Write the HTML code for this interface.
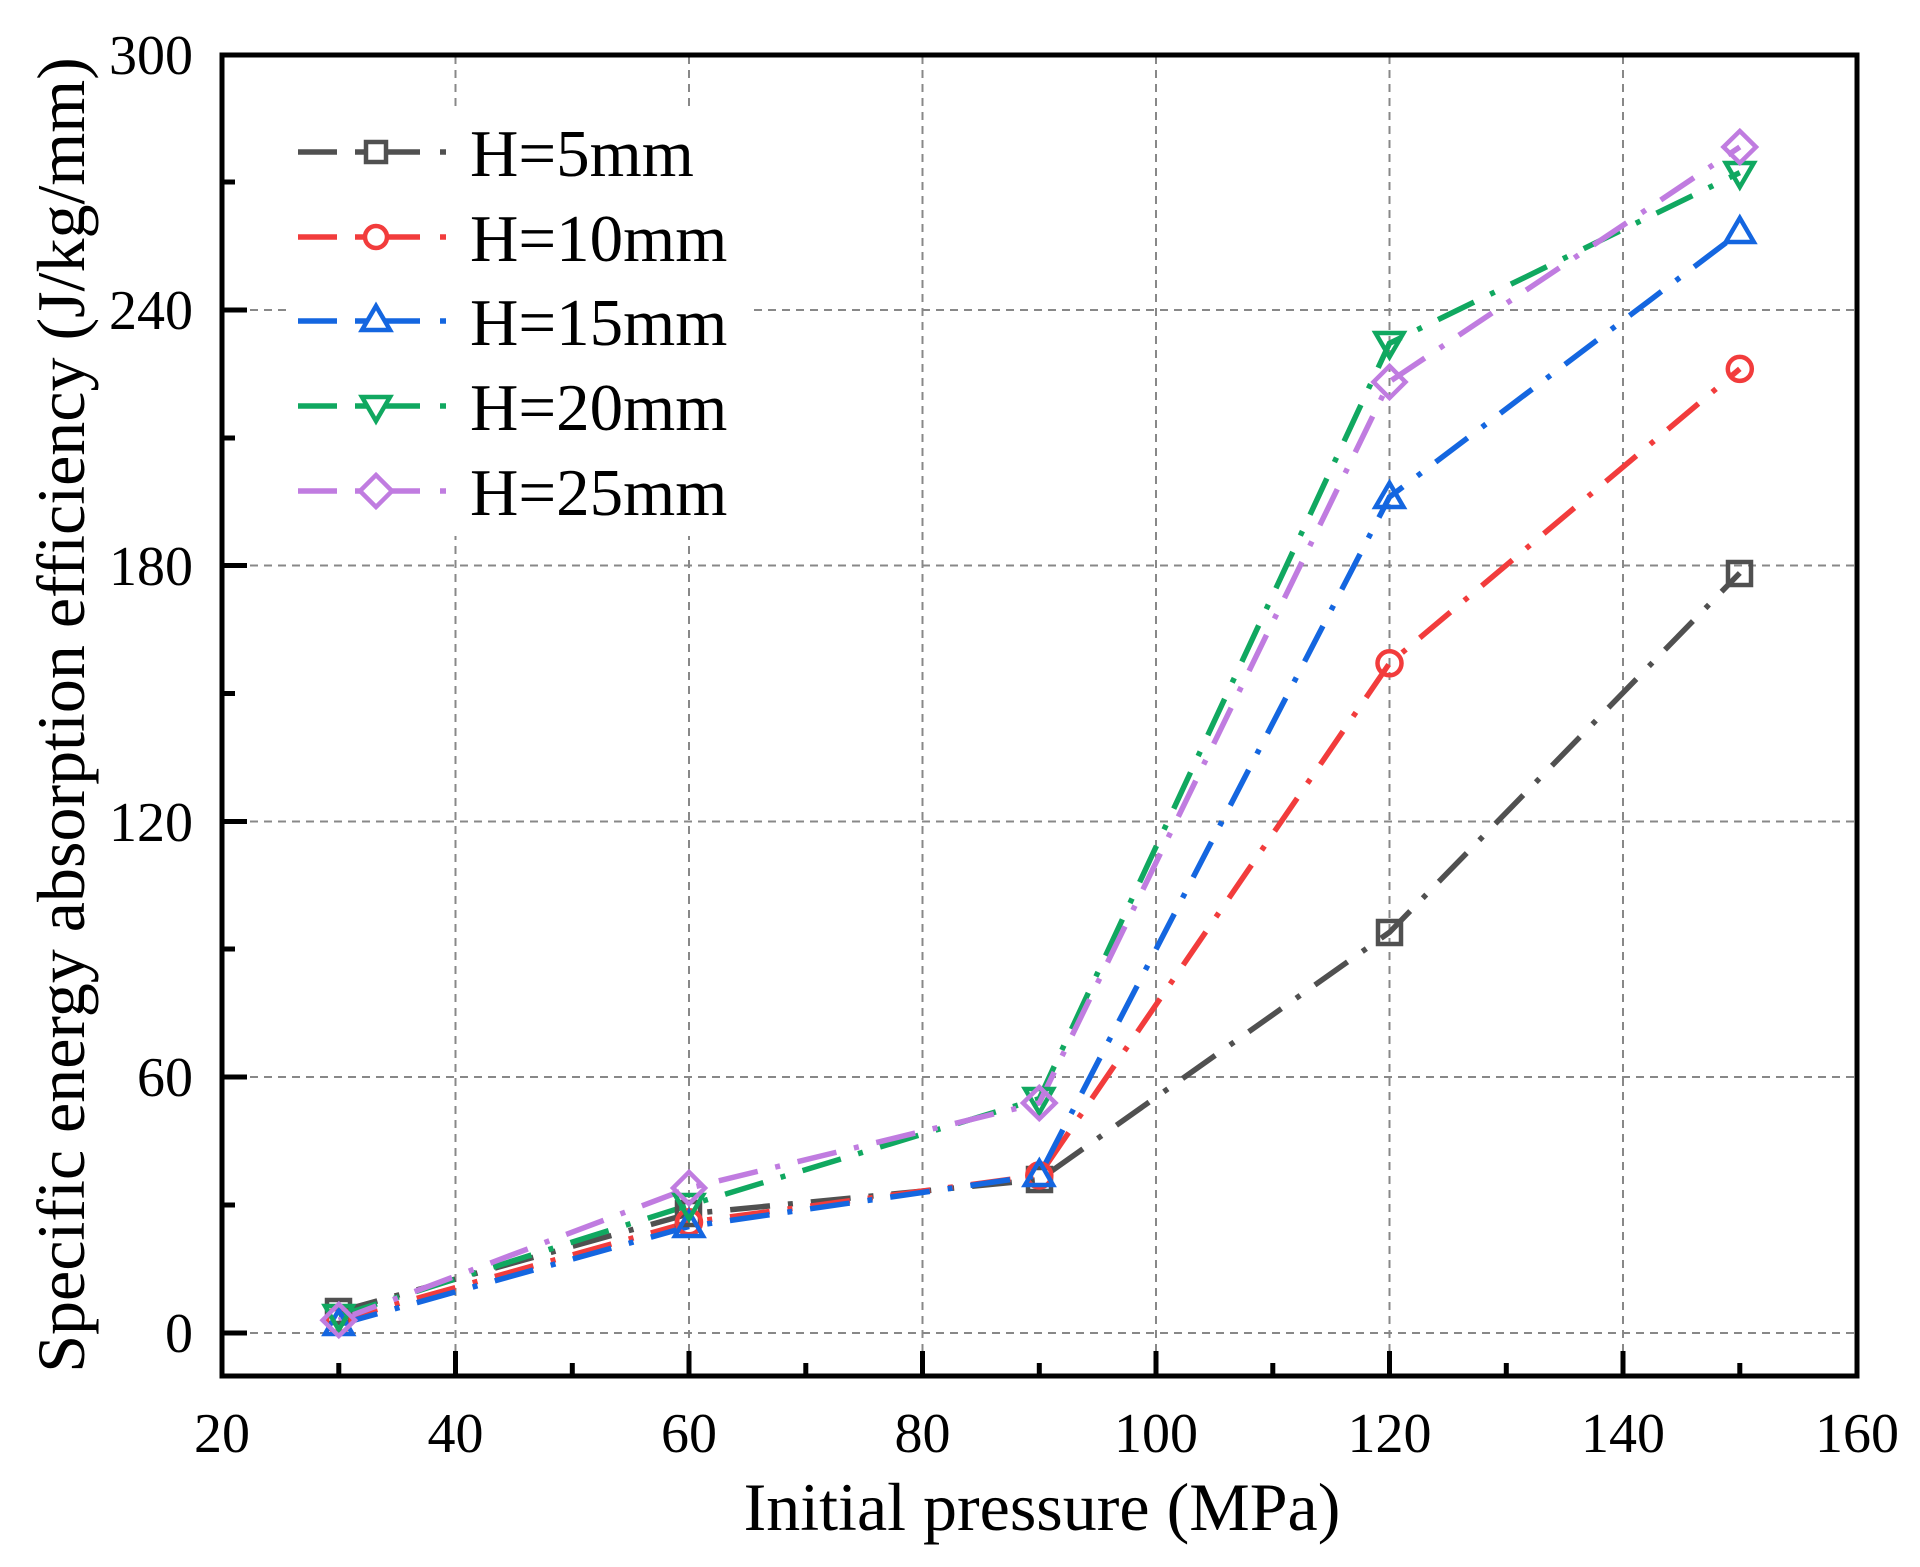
<!DOCTYPE html>
<html><head><meta charset="utf-8"><style>body{margin:0;background:#fff}svg{display:block}</style></head>
<body>
<svg width="1920" height="1567" viewBox="0 0 1920 1567" xmlns="http://www.w3.org/2000/svg" font-family="Liberation Serif, serif">
<rect width="1920" height="1567" fill="#fff"/>
<g stroke="#888" stroke-width="2" stroke-dasharray="8 6">
<line x1="455.5" y1="56" x2="455.5" y2="1375"/>
<line x1="689" y1="56" x2="689" y2="1375"/>
<line x1="922.5" y1="56" x2="922.5" y2="1375"/>
<line x1="1156" y1="56" x2="1156" y2="1375"/>
<line x1="1389.5" y1="56" x2="1389.5" y2="1375"/>
<line x1="1623" y1="56" x2="1623" y2="1375"/>
<line x1="222" y1="1333" x2="1857" y2="1333"/>
<line x1="222" y1="1077" x2="1857" y2="1077"/>
<line x1="222" y1="821.5" x2="1857" y2="821.5"/>
<line x1="222" y1="565.5" x2="1857" y2="565.5"/>
<line x1="222" y1="310" x2="1857" y2="310"/>
</g>
<rect x="290" y="106" width="458" height="430" fill="#fff"/>
<g fill="none" stroke-width="5.5" stroke-dasharray="40 18 5 18">
<polyline stroke="#505050" points="338.8,1311.7 689,1213.8 1039.3,1179.7 1389.5,932.3 1739.8,573"/>
<polyline stroke="#f23c3c" points="338.8,1320.2 689,1222.3 1039.3,1175.4 1389.5,663.3 1739.8,368.9"/>
<polyline stroke="#1466e0" points="338.8,1324.5 689,1226.5 1039.3,1175.4 1389.5,497 1739.8,232.3"/>
<polyline stroke="#10a860" points="338.8,1315.9 689,1205.2 1039.3,1098.6 1389.5,343.3 1739.8,172.6"/>
<polyline stroke="#c07ce0" points="338.8,1320.2 689,1188.1 1039.3,1102.9 1389.5,381.7 1739.8,147"/>
</g>
<g fill="none" stroke-width="4.5">
<rect x="327" y="1300" width="23" height="23" stroke="#505050"/>
<rect x="677" y="1202" width="23" height="23" stroke="#505050"/>
<rect x="1028" y="1168" width="23" height="23" stroke="#505050"/>
<rect x="1378" y="921" width="23" height="23" stroke="#505050"/>
<rect x="1728" y="562" width="23" height="23" stroke="#505050"/>
<g stroke="#f23c3c"><circle cx="338.8" cy="1320.2" r="12"/><circle cx="689" cy="1222.3" r="12"/><circle cx="1039.3" cy="1175.4" r="12"/><circle cx="1389.5" cy="663.3" r="12"/><circle cx="1739.8" cy="368.9" r="12"/></g>
<g stroke="#1466e0">
<polygon points="338.8,1310 325,1334 352.6,1334"/>
<polygon points="689,1212 675,1236 703,1236"/>
<polygon points="1039.3,1161 1025,1185 1053,1185"/>
<polygon points="1389.5,483 1375.5,507 1403.5,507"/>
<polygon points="1739.8,218 1725.8,242 1753.8,242"/>
</g>
<g stroke="#10a860">
<polygon points="325,1306 352.6,1306 338.8,1330"/>
<polygon points="675,1195 703,1195 689,1219"/>
<polygon points="1025,1089 1053,1089 1039.3,1113"/>
<polygon points="1375.5,333 1403.5,333 1389.5,357"/>
<polygon points="1725.8,163 1753.8,163 1739.8,187"/>
</g>
<g stroke="#c07ce0">
<polygon points="338.8,1304 355,1320.2 338.8,1336 322.6,1320.2"/>
<polygon points="689,1172 705,1188 689,1204 673,1188"/>
<polygon points="1039.3,1087 1055.5,1103 1039.3,1119 1023,1103"/>
<polygon points="1389.5,366 1405.5,382 1389.5,398 1373.5,382"/>
<polygon points="1739.8,131 1756,147 1739.8,163 1723.5,147"/>
</g>
</g>
<g stroke-width="5.5" fill="none">
<g stroke="#505050"><line x1="298" y1="152" x2="337" y2="152"/><line x1="355" y1="152" x2="420" y2="152"/><line x1="440" y1="152" x2="446" y2="152"/><rect x="366" y="142" width="20" height="20" stroke-width="4.5" fill="#fff"/></g>
<g stroke="#f23c3c"><line x1="298" y1="237" x2="337" y2="237"/><line x1="355" y1="237" x2="420" y2="237"/><line x1="440" y1="237" x2="446" y2="237"/><circle cx="376" cy="237" r="11" stroke-width="4.5" fill="#fff"/></g>
<g stroke="#1466e0"><line x1="298" y1="321" x2="337" y2="321"/><line x1="355" y1="321" x2="420" y2="321"/><line x1="440" y1="321" x2="446" y2="321"/><polygon points="376,306 362,330 390,330" stroke-width="4.5" fill="#fff"/></g>
<g stroke="#10a860"><line x1="298" y1="406" x2="337" y2="406"/><line x1="355" y1="406" x2="420" y2="406"/><line x1="440" y1="406" x2="446" y2="406"/><polygon points="362,397 390,397 376,421" stroke-width="4.5" fill="#fff"/></g>
<g stroke="#c07ce0"><line x1="298" y1="491" x2="337" y2="491"/><line x1="355" y1="491" x2="420" y2="491"/><line x1="440" y1="491" x2="446" y2="491"/><polygon points="376,475 392,491 376,507 360,491" stroke-width="4.5" fill="#fff"/></g>
</g>
<g font-size="67" fill="#000">
<text x="470" y="176">H=5mm</text>
<text x="470" y="261">H=10mm</text>
<text x="470" y="345">H=15mm</text>
<text x="470" y="430">H=20mm</text>
<text x="470" y="515">H=25mm</text>
</g>
<rect x="222" y="55" width="1635" height="1321" fill="none" stroke="#000" stroke-width="5"/>
<g stroke="#000" stroke-width="5">
<line x1="455.5" y1="1376" x2="455.5" y2="1351"/><line x1="689" y1="1376" x2="689" y2="1351"/><line x1="922.5" y1="1376" x2="922.5" y2="1351"/><line x1="1156" y1="1376" x2="1156" y2="1351"/><line x1="1389.5" y1="1376" x2="1389.5" y2="1351"/><line x1="1623" y1="1376" x2="1623" y2="1351"/>
<line x1="338.8" y1="1376" x2="338.8" y2="1363"/><line x1="572.3" y1="1376" x2="572.3" y2="1363"/><line x1="805.8" y1="1376" x2="805.8" y2="1363"/><line x1="1039.3" y1="1376" x2="1039.3" y2="1363"/><line x1="1272.8" y1="1376" x2="1272.8" y2="1363"/><line x1="1506.3" y1="1376" x2="1506.3" y2="1363"/><line x1="1739.8" y1="1376" x2="1739.8" y2="1363"/>
<line x1="222" y1="1333" x2="247" y2="1333"/><line x1="222" y1="1077" x2="247" y2="1077"/><line x1="222" y1="821.5" x2="247" y2="821.5"/><line x1="222" y1="565.5" x2="247" y2="565.5"/><line x1="222" y1="310" x2="247" y2="310"/>
<line x1="222" y1="1205" x2="235" y2="1205"/><line x1="222" y1="949" x2="235" y2="949"/><line x1="222" y1="693.5" x2="235" y2="693.5"/><line x1="222" y1="438" x2="235" y2="438"/><line x1="222" y1="182" x2="235" y2="182"/>
</g>
<g font-size="56" fill="#000" text-anchor="end">
<text x="193" y="1352">0</text><text x="193" y="1096">60</text><text x="193" y="841">120</text><text x="193" y="585">180</text><text x="193" y="329">240</text><text x="193" y="74">300</text>
</g>
<g font-size="56" fill="#000" text-anchor="middle">
<text x="222" y="1452">20</text><text x="455.5" y="1452">40</text><text x="689" y="1452">60</text><text x="922.5" y="1452">80</text><text x="1156" y="1452">100</text><text x="1389.5" y="1452">120</text><text x="1623" y="1452">140</text><text x="1857" y="1452">160</text>
</g>
<text x="1042" y="1530" font-size="68" text-anchor="middle">Initial pressure (MPa)</text>
<text transform="translate(84,715) rotate(-90)" font-size="68" text-anchor="middle">Specific energy absorption efficiency (J/kg/mm)</text>
</svg>
</body></html>
